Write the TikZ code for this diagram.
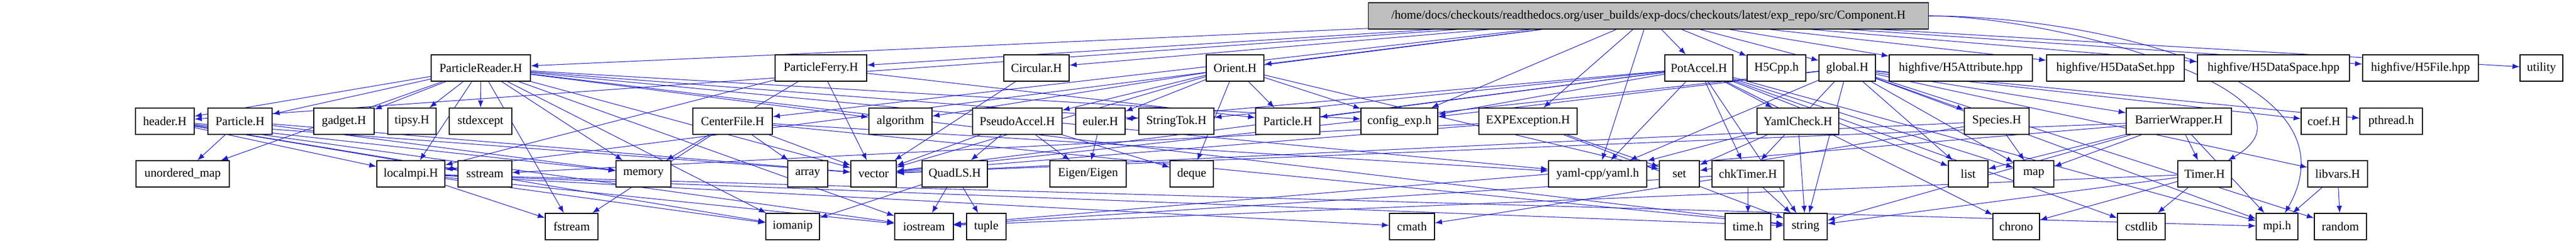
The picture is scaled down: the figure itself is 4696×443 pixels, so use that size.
\documentclass[tikz,border=0pt]{standalone}
\usepackage{fontspec}
\setmainfont{Liberation Serif}
\usetikzlibrary{arrows,backgrounds}

\definecolor{edgeblue}{RGB}{30,30,200}
\definecolor{rootgray}{RGB}{191,191,191}

\begin{document}
\begin{tikzpicture}[x=0.01cm, y=-0.01cm, semithick]
  \tikzstyle{file} = [rectangle, draw, thin, fill=white, minimum height=0.48cm,
    inner sep=1pt, font=\fontsize{6.3}{7}\selectfont]
  \tikzstyle{root} = [file, fill=rootgray]
  \tikzstyle{line} = [draw, edgeblue, line width=0.3pt, -latex]

  \useasboundingbox (0,0) rectangle (4696,443);

  % Place nodes
  \node [root, minimum width=10.2cm] (comp) at (3005,29)
    {/home/docs/checkouts/readthedocs.org/user\_builds/exp-docs/checkouts/latest/exp\_repo/src/Component.H};

  \node [file, minimum width=1.81cm] (preader) at (876.5,124) {ParticleReader.H};
  \node [file, minimum width=1.67cm] (pferry) at (1496.5,124) {ParticleFerry.H};
  \node [file, minimum width=1.19cm] (circular) at (1889.5,124) {Circular.H};
  \node [file, minimum width=1.05cm] (orient) at (2251.5,124) {Orient.H};
  \node [file, minimum width=1.24cm] (potaccel) at (3097,124) {PotAccel.H};
  \node [file, minimum width=1.07cm] (hfivecpp) at (3238.5,124) {H5Cpp.h};
  \node [file, minimum width=1.03cm] (global) at (3367.5,124) {global.H};
  \node [file, minimum width=2.61cm] (hfattr) at (3574.5,124) {highfive/H5Attribute.hpp};
  \node [file, minimum width=2.51cm] (hfdset) at (3856.5,124) {highfive/H5DataSet.hpp};
  \node [file, minimum width=2.77cm] (hfdspace) at (4144.5,124) {highfive/H5DataSpace.hpp};
  \node [file, minimum width=2.11cm] (hffile) at (4412.5,124) {highfive/H5File.hpp};
  \node [file, minimum width=0.78cm] (utility) at (4633,124) {utility};

  \node [file, minimum width=1.07cm] (header) at (300.5,221) {header.H};
  \node [file, minimum width=1.17cm] (particlea) at (437.5,221) {Particle.H};
  \node [file, minimum width=1.10cm] (gadget) at (627,221) {gadget.H};
  \node [file, minimum width=0.88cm] (tipsy) at (751,221) {tipsy.H};
  \node [file, minimum width=1.14cm] (stdexcept) at (876,221) {stdexcept};
  \node [file, minimum width=1.45cm] (centerfile) at (1335.5,221) {CenterFile.H};
  \node [file, minimum width=1.15cm] (algorithm) at (1641.5,221) {algorithm};
  \node [file, minimum width=1.63cm] (pseudo) at (1854.5,221) {PseudoAccel.H};
  \node [file, minimum width=0.90cm] (euler) at (2006,221) {euler.H};
  \node [file, minimum width=1.37cm] (stringtok) at (2144.5,221) {StringTok.H};
  \node [file, minimum width=1.17cm] (particleb) at (2347.5,221) {Particle.H};
  \node [file, minimum width=1.40cm] (config) at (2551,221) {config\_exp.h};
  \node [file, minimum width=1.79cm] (expexc) at (2785.5,221) {EXPException.H};
  \node [file, minimum width=1.49cm] (yamlcheck) at (3277.5,221) {YamlCheck.H};
  \node [file, minimum width=1.18cm] (species) at (3640,221) {Species.H};
  \node [file, minimum width=1.92cm] (barrier) at (3972,221) {BarrierWrapper.H};
  \node [file, minimum width=0.83cm] (coef) at (4236.5,221) {coef.H};
  \node [file, minimum width=1.14cm] (pthread) at (4359,221) {pthread.h};

  \node [file, minimum width=1.70cm] (unordered) at (333,317) {unordered\_map};
  \node [file, minimum width=1.24cm] (localmpi) at (749,317) {localmpi.H};
  \node [file, minimum width=0.98cm] (sstream) at (884,317) {sstream};
  \node [file, minimum width=1.00cm] (memory) at (1173,317) {memory};
  \node [file, minimum width=0.73cm] (array) at (1472.5,317) {array};
  \node [file, minimum width=0.83cm] (vector) at (1592.5,317) {vector};
  \node [file, minimum width=1.19cm] (quadls) at (1740.5,317) {QuadLS.H};
  \node [file, minimum width=1.39cm] (eigen) at (1983.5,317) {Eigen/Eigen};
  \node [file, minimum width=0.79cm] (deque) at (2172.5,317) {deque};
  \node [file, minimum width=1.79cm] (yaml) at (2912.5,317) {yaml-cpp/yaml.h};
  \node [file, minimum width=0.73cm] (set) at (3061.5,317) {set};
  \node [file, minimum width=1.31cm] (chktimer) at (3186.5,317) {chkTimer.H};
  \node [file, minimum width=0.72cm] (list) at (3588,317) {list};
  \node [file, minimum width=0.73cm] (map) at (3707.5,317) {map};
  \node [file, minimum width=0.98cm] (timer) at (4019,317) {Timer.H};
  \node [file, minimum width=1.09cm] (libvars) at (4261.5,317) {libvars.H};

  \node [file, minimum width=0.96cm] (fstream) at (1042,413) {fstream};
  \node [file, minimum width=0.98cm] (iomanip) at (1445,413) {iomanip};
  \node [file, minimum width=1.07cm] (iostream) at (1684.5,413) {iostream};
  \node [file, minimum width=0.72cm] (tuple) at (1798,413) {tuple};
  \node [file, minimum width=0.82cm] (cmath) at (2574,413) {cmath};
  \node [file, minimum width=0.83cm] (timeh) at (3186.5,413) {time.h};
  \node [file, minimum width=0.79cm] (string) at (3291.5,413) {string};
  \node [file, minimum width=0.85cm] (chrono) at (3675.5,413) {chrono};
  \node [file, minimum width=0.87cm] (cstdlib) at (3903.5,413) {cstdlib};
  \node [file, minimum width=0.76cm] (mpi) at (4151,413) {mpi.h};
  \node [file, minimum width=0.95cm] (random) at (4266.5,413) {random};

  % Draw edges
  \begin{pgfonlayer}{background}
  \path [line] (comp) -- (preader);
  \path [line] (comp) -- (pferry);
  \path [line] (comp) -- (circular);
  \path [line] (comp) -- (orient);
  \path [line] (comp) -- (potaccel);
  \path [line] (comp) -- (hfivecpp);
  \path [line] (comp) -- (global);
  \path [line] (comp) -- (hfattr);
  \path [line] (comp) -- (hfdset);
  \path [line] (comp) -- (hfdspace);
  \path [line] (comp) -- (hffile);
  \path [line] (comp) -- (utility);
  \path [line] (comp) -- (header);
  \path [line] (comp) -- (centerfile);
  \path [line] (comp) -- (config);
  \path [line] (comp) -- (expexc);
  \path [line] (comp) -- (yaml);
  \path [line] (comp) -- (localmpi);
  \path [line] (comp.east) to [out=0, in=30] (timer);
  \path [line] (comp.east) to [out=0, in=60] (mpi);

  \path [line] (preader) -- (header);
  \path [line] (preader) -- (particlea);
  \path [line] (preader) -- (gadget);
  \path [line] (preader) -- (tipsy);
  \path [line] (preader) -- (stdexcept);
  \path [line] (preader) -- (unordered);
  \path [line] (preader) -- (localmpi);
  \path [line] (preader) -- (memory);
  \path [line] (preader) -- (fstream);
  \path [line] (preader) -- (iomanip);
  \path [line] (preader) -- (algorithm);
  \path [line] (preader) -- (vector);
  \path [line] (preader) -- (string);
  \path [line] (preader) -- (iostream);
  \path [line] (preader) -- (config);
  \path [line] (preader) -- (stringtok);
  \path [line] (preader) -- (yaml);

  \path [line] (header) -- (localmpi);
  \path [line] (header) -- (sstream);
  \path [line] (header) -- (memory);
  \path [line] (header) -- (iomanip);
  \path [line] (header) -- (vector);
  \path [line] (header) -- (iostream);
  \path [line] (particlea) -- (unordered);
  \path [line] (particlea) -- (memory);
  \path [line] (particlea) -- (vector);

  \path [line] (pferry) -- (localmpi);
  \path [line] (pferry) -- (memory);
  \path [line] (pferry) -- (vector);
  \path [line] (pferry) -- (particleb);
  \path [line] (centerfile) -- (fstream);
  \path [line] (centerfile) -- (array);
  \path [line] (centerfile) -- (vector);
  \path [line] (centerfile) -- (string);
  \path [line] (centerfile) -- (yaml);
  \path [line] (circular) -- (vector);

  \path [line] (orient) -- (algorithm);
  \path [line] (orient) -- (pseudo);
  \path [line] (orient) -- (euler);
  \path [line] (orient) -- (particleb);
  \path [line] (orient) -- (config);
  \path [line] (orient) -- (deque);
  \path [line] (orient) -- (vector);
  \path [line] (orient) -- (set);
  \path [line] (pseudo) -- (quadls);
  \path [line] (pseudo) -- (eigen);
  \path [line] (pseudo) -- (deque);
  \path [line] (pseudo) -- (vector);
  \path [line] (euler) -- (eigen);
  \path [line] (quadls) -- (iostream);
  \path [line] (quadls) -- (tuple);
  \path [line] (quadls) -- (iomanip);

  \path [line] (expexc) -- (string);
  \path [line] (expexc) -- (set);
  \path [line] (expexc) -- (vector);
  \path [line] (expexc) -- (sstream);

  \path [line] (potaccel) -- (yamlcheck);
  \path [line] (potaccel) -- (config);
  \path [line] (potaccel) -- (particleb);
  \path [line] (potaccel) -- (stringtok);
  \path [line] (potaccel) -- (euler);
  \path [line] (potaccel) -- (list);
  \path [line] (potaccel) -- (map);
  \path [line] (potaccel) -- (string);
  \path [line] (potaccel) -- (chrono);
  \path [line] (potaccel) -- (cstdlib);
  \path [line] (potaccel) -- (mpi);
  \path [line] (potaccel) -- (vector);
  \path [line] (potaccel) -- (yaml);
  \path [line] (potaccel) -- (chktimer);

  \path [line] (global) -- (config);
  \path [line] (global) -- (species);
  \path [line] (global) -- (barrier);
  \path [line] (global) -- (coef);
  \path [line] (global) -- (pthread);
  \path [line] (global) -- (list);
  \path [line] (global) -- (map);
  \path [line] (global) -- (mpi);
  \path [line] (global) -- (random);
  \path [line] (global) -- (libvars);
  \path [line] (global) -- (chktimer);
  \path [line] (global) -- (yaml);
  \path [line] (global) -- (vector);
  \path [line] (global) -- (string);

  \path [line] (yamlcheck) -- (yaml);
  \path [line] (yamlcheck) -- (string);
  \path [line] (yamlcheck) -- (set);
  \path [line] (species) -- (map);
  \path [line] (species) -- (vector);
  \path [line] (species) -- (set);
  \path [line] (barrier) -- (timer);
  \path [line] (barrier) -- (list);
  \path [line] (barrier) -- (map);
  \path [line] (barrier) -- (mpi);
  \path [line] (barrier) -- (string);
  \path [line] (barrier) -- (iostream);
  \path [line] (barrier) -- (vector);
  \path [line] (chktimer) -- (timeh);
  \path [line] (chktimer) -- (string);
  \path [line] (chktimer) -- (iostream);
  \path [line] (chktimer) -- (cmath);
  \path [line] (timer) -- (chrono);
  \path [line] (timer) -- (cstdlib);
  \path [line] (timer) -- (iostream);
  \path [line] (timer) -- (string);
  \path [line] (libvars) -- (mpi);
  \path [line] (libvars) -- (random);
  \path [line] (localmpi) -- (fstream);
  \path [line] (localmpi) -- (iomanip);
  \path [line] (localmpi) -- (mpi);
  \path [line] (localmpi) -- (iostream);
  \path [line] (localmpi) -- (string);
  \path [line] (localmpi) -- (cmath);
  \end{pgfonlayer}
\end{tikzpicture}
\end{document}
